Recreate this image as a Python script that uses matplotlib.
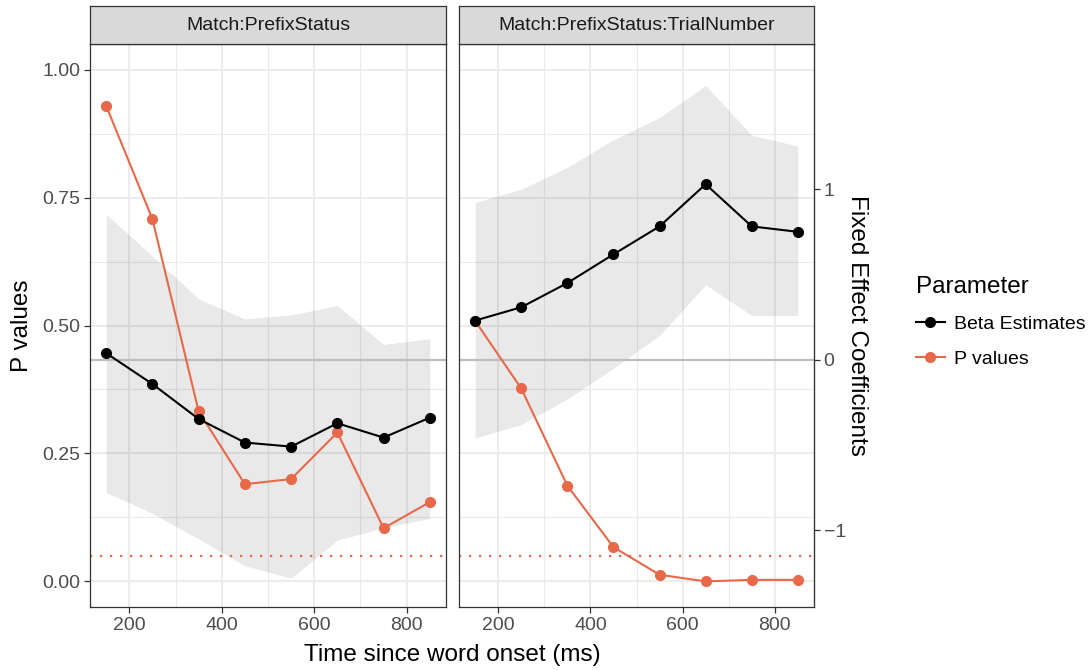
import matplotlib
matplotlib.use("Agg")
import matplotlib.pyplot as plt
from matplotlib.lines import Line2D

plt.rcParams['font.family'] = ['Liberation Sans', 'DejaVu Sans']

# data
times = [150, 250, 350, 450, 550, 650, 750, 850]
panels = ["Match:PrefixStatus", "Match:PrefixStatus:TrialNumber"]

p_left = [0.929, 0.708, 0.332, 0.190, 0.200, 0.291, 0.104, 0.155]
beta_left = [0.039, -0.142, -0.347, -0.485, -0.509, -0.372, -0.456, -0.339]
beta_left_hi = [0.854, 0.608, 0.357, 0.240, 0.263, 0.318, 0.090, 0.123]
beta_left_lo = [-0.778, -0.900, -1.050, -1.207, -1.280, -1.057, -0.985, -0.930]

p_right = [0.509, 0.377, 0.187, 0.067, 0.013, 0.000, 0.003, 0.003]
beta_right = [0.230, 0.308, 0.450, 0.618, 0.782, 1.029, 0.782, 0.750]
beta_right_hi = [0.922, 1.000, 1.128, 1.290, 1.420, 1.608, 1.316, 1.253]
beta_right_lo = [-0.458, -0.380, -0.230, -0.050, 0.142, 0.440, 0.259, 0.259]

alpha_level = 0.05

# coefficient <-> p-value scale
OFFSET = 0.433
SCALE = 3.0


def coef_to_p(c):
    return OFFSET + c / SCALE


def p_to_coef(p):
    return (p - OFFSET) * SCALE


RED = "#E8684A"
W, H = 1088, 670
fig = plt.figure(figsize=(W / 100, H / 100), dpi=100)

panel_px = [(90, 356), (459, 355)]
top, bottom = 44, 607
strip_h = 38

data = [(p_left, beta_left, beta_left_lo, beta_left_hi),
        (p_right, beta_right, beta_right_lo, beta_right_hi)]

axes = []
for i, ((x0, w), (pv, b, lo, hi)) in enumerate(zip(panel_px, data)):
    ax = fig.add_axes([x0 / W, (H - bottom) / H, w / W, (bottom - top) / H])
    axes.append(ax)
    ax.set_xlim(115, 885)
    ax.set_ylim(-0.05, 1.05)
    ax.set_xticks([200, 400, 600, 800])
    ax.set_xticks([300, 500, 700], minor=True)
    ax.set_yticks([0, 0.25, 0.5, 0.75, 1.0])
    ax.set_yticks([0.125, 0.375, 0.625, 0.875], minor=True)
    ax.grid(True, which='major', color='#EBEBEB', lw=1.3, zorder=0)
    ax.grid(True, which='minor', color='#EBEBEB', lw=0.8, zorder=0)
    ax.set_axisbelow(True)
    for s in ax.spines.values():
        s.set_color('#333333')
        s.set_linewidth(0.9)
    ax.tick_params(which='major', length=4, width=0.9, color='#333333',
                   labelsize=14, labelcolor='#4D4D4D', pad=3)
    ax.tick_params(which='minor', length=0)
    if i == 0:
        ax.set_yticklabels(["0.00", "0.25", "0.50", "0.75", "1.00"])
        ax.set_ylabel("P values", fontsize=17.5, labelpad=7)
    else:
        ax.tick_params(axis='y', which='both', left=False, labelleft=False)

    ax.fill_between(times, [coef_to_p(v) for v in lo], [coef_to_p(v) for v in hi],
                    color='black', alpha=0.085, lw=0, zorder=1)
    ax.axhline(coef_to_p(0), color='#BDBDBD', lw=1.6, zorder=2)
    ax.axhline(alpha_level, color=RED, lw=1.6, ls=(0, (1, 3.5)), zorder=2)
    ax.plot(times, [coef_to_p(v) for v in b], color='black', lw=1.5,
            marker='o', ms=7, zorder=4)
    ax.plot(times, pv, color=RED, lw=1.5, marker='o', ms=7, zorder=3)

    # facet strip
    sax = fig.add_axes([x0 / W, (H - top) / H, w / W, strip_h / H])
    sax.set_facecolor('#D9D9D9')
    sax.set_xticks([])
    sax.set_yticks([])
    for s in sax.spines.values():
        s.set_color('#333333')
        s.set_linewidth(0.9)
    sax.text(0.5, 0.48, panels[i], ha='center', va='center', fontsize=14,
             color='#1A1A1A', transform=sax.transAxes)

sec = axes[1].secondary_yaxis('right', functions=(p_to_coef, coef_to_p))
sec.set_yticks([-1, 0, 1])
sec.spines['right'].set_color('#333333')
sec.tick_params(length=4, width=0.9, color='#333333', labelsize=14,
                labelcolor='#4D4D4D', pad=3)
sec.set_ylabel("Fixed Effect Coefficients", fontsize=17.5, rotation=270,
               labelpad=16)

fig.text(452 / W, 1 - 655 / H, "Time since word onset (ms)", ha='center',
         va='center', fontsize=17.5)

handles = [Line2D([0], [0], color='black', lw=1.5, marker='o', ms=7),
           Line2D([0], [0], color=RED, lw=1.5, marker='o', ms=7)]
leg = fig.legend(handles, ["Beta Estimates", "P values"], title="Parameter",
                 loc='center left', bbox_to_anchor=(908 / W, 1 - 322 / H),
                 frameon=False, fontsize=14, title_fontsize=17.5,
                 handlelength=1.5, handletextpad=0.45, labelspacing=0.9,
                 borderaxespad=0)
leg._legend_box.align = "left"

fig.savefig("out.png", dpi=100)
